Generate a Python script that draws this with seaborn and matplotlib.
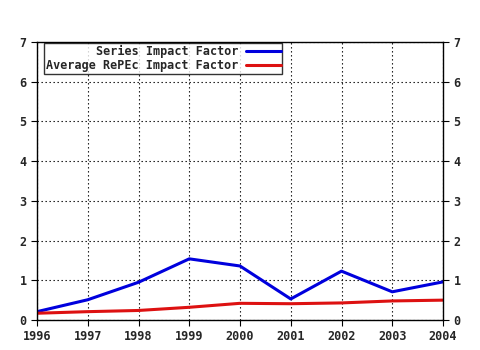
import matplotlib
matplotlib.use("Agg")
import matplotlib.pyplot as plt
import seaborn as sns
import pandas as pd
from matplotlib.lines import Line2D

years = [1996, 1997, 1998, 1999, 2000, 2001, 2002, 2003, 2004]
series_if = [0.21, 0.51, 0.95, 1.54, 1.36, 0.53, 1.23, 0.71, 0.96]
repec_if = [0.17, 0.21, 0.24, 0.32, 0.42, 0.41, 0.43, 0.48, 0.50]
labels = ["Series Impact Factor", "Average RePEc Impact Factor"]
colors = ["#0000dd", "#dd1111"]

sns.set_style("white")
plt.rcParams['font.family'] = ['DejaVu Sans Mono']
plt.rcParams['font.weight'] = 'bold'

df = pd.DataFrame({"year": years * 2,
                   "value": series_if + repec_if,
                   "series": [labels[0]] * len(years) + [labels[1]] * len(years)})

fig = plt.figure(figsize=(4.8, 3.5), dpi=100)
ax = fig.add_axes([37/480, 1-320/350, (443-37)/480, (320-42)/350])
sns.lineplot(data=df, x="year", y="value", hue="series",
             palette=colors, linewidth=2.2, ax=ax, legend=False)

ax.set_xlim(1996, 2004)
ax.set_ylim(0, 7)
ax.set_xticks(years)
ax.set_xticklabels([str(y) for y in years])
ax.set_yticks(range(0, 8))
ax.grid(True, color="black", linestyle=(0, (1.2, 2.4)), linewidth=0.8)
ax.set_xlabel("")
ax.set_ylabel("")
for s in ax.spines.values():
    s.set_color("black")
    s.set_linewidth(1)
ax.tick_params(axis="both", labelsize=8.5, length=4, color="black", direction="out",
               left=True, right=True, bottom=True, labelright=True)
for t in ax.get_xticklabels() + ax.get_yticklabels():
    t.set_fontweight("bold")

handles = [Line2D([], [], color=c, lw=2.2) for c in colors]
leg = ax.legend(handles, labels, loc="upper left", bbox_to_anchor=(7/406, 1-1/278),
                markerfirst=False, frameon=True, fancybox=False, edgecolor="black",
                borderpad=0.15, labelspacing=0.1, handlelength=2.9, handletextpad=0.7,
                borderaxespad=0.0,
                prop={"family": "DejaVu Sans Mono", "weight": "bold", "size": 8.5})
leg.get_frame().set_linewidth(1)
for t in leg.get_texts():
    t.set_ha("right")
leg._legend_box.align = "right"

fig.savefig("out.png", dpi=100, facecolor="white")
